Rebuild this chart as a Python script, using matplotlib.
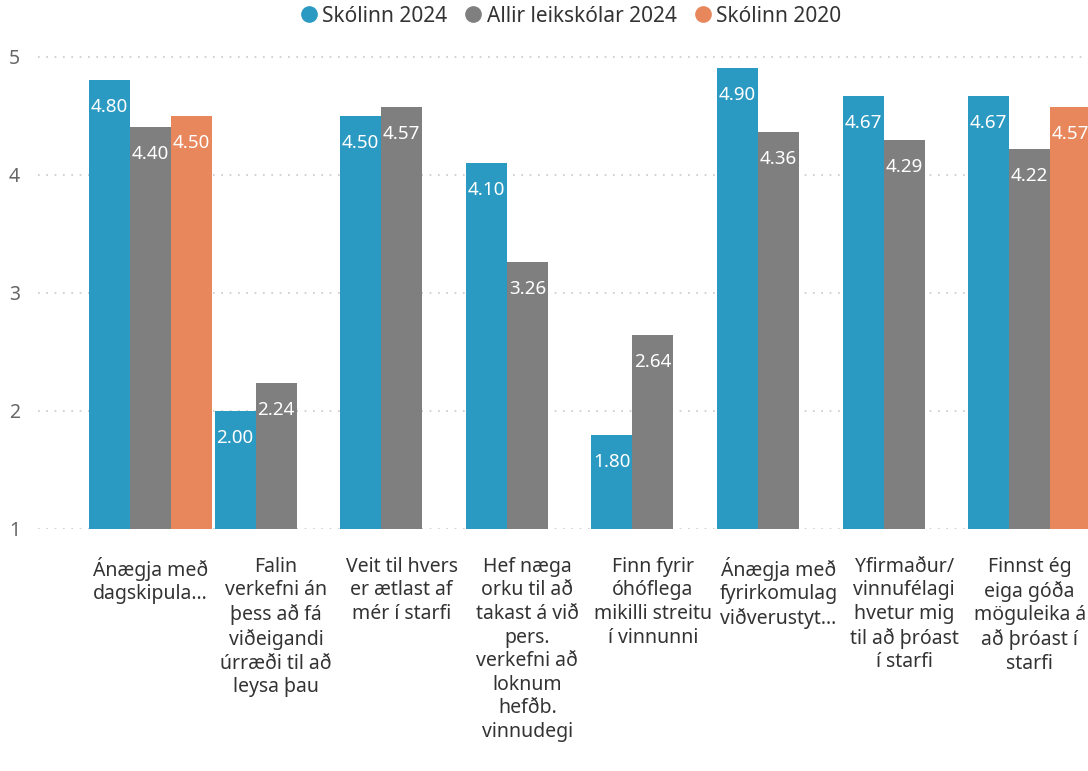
import matplotlib
matplotlib.use("Agg")
import matplotlib.pyplot as plt
import numpy as np
from matplotlib.lines import Line2D

categories = [
    "Ánægja með\ndagskipula...",
    "Falin\nverkefni án\nþess að fá\nviðeigandi\núrræði til að\nleysa þau",
    "Veit til hvers\ner ætlast af\nmér í starfi",
    "Hef næga\norku til að\ntakast á við\npers.\nverkefni að\nloknum\nhefðb.\nvinnudegi",
    "Finn fyrir\nóhóflega\nmikilli streitu\ní vinnunni",
    "Ánægja með\nfyrirkomulag\nviðverustyt...",
    "Yfirmaður/\nvinnufélagi\nhvetur mig\ntil að þróast\ní starfi",
    "Finnst ég\neiga góða\nmöguleika á\nað þróast í\nstarfi",
]
skolinn_2024 = [4.80, 2.00, 4.50, 4.10, 1.80, 4.90, 4.67, 4.67]
allir_2024 = [4.40, 2.24, 4.57, 3.26, 2.64, 4.36, 4.29, 4.22]
skolinn_2020 = [4.50, None, None, None, None, None, None, 4.57]

series_names = ["Skólinn 2024", "Allir leikskólar 2024", "Skólinn 2020"]
colors = ["#2b9ac2", "#7f7f7f", "#e8865c"]
yticks = [1, 2, 3, 4, 5]

plt.rcParams['font.family'] = ['Noto Sans', 'DejaVu Sans']

fig = plt.figure(figsize=(10.88, 7.71), dpi=100)
ax = fig.add_axes([38/1088, 1 - 529/771, 1 - 38/1088, (529-40)/771])

bw = 0.327
x = np.arange(len(categories))
base = 1.0
all_series = [skolinn_2024, allir_2024, skolinn_2020]
for si, (vals, col) in enumerate(zip(all_series, colors)):
    for i, v in enumerate(vals):
        if v is None:
            continue
        xpos = x[i] + (si - 1) * bw
        ax.bar(xpos, v - base, bottom=base, width=bw, color=col, zorder=2)
        ax.annotate(f"{v:.2f}", (xpos, v), xytext=(0, -27), textcoords="offset pixels",
                    ha="center", va="center", color="white", fontsize=13.5, zorder=3)

ax.set_ylim(1, 5.14)
ax.set_xlim(-0.896, 7.464)
ax.set_yticks(yticks)
ax.set_yticklabels([str(t) for t in yticks])
for t in yticks:
    ax.axhline(t, color="#c8c8c8", linestyle=(0, (1, 4)), linewidth=1.2, zorder=1)

ax.set_xticks(x)
ax.set_xticklabels(categories, fontsize=14, color="#333333", linespacing=1.24, va="top")
ax.tick_params(axis="x", length=0, pad=20)
ax.tick_params(axis="y", length=0, pad=13, labelsize=14, labelcolor="#666666")
for s in ax.spines.values():
    s.set_visible(False)

handles = [Line2D([], [], marker="o", linestyle="none", markersize=11, color=c) for c in colors]
fig.legend(handles, series_names, loc="center", bbox_to_anchor=(570/1088, 1 - 16/771),
           ncol=3, frameon=False, fontsize=15, handletextpad=0.15, columnspacing=0.75,
           handlelength=1.0, labelcolor="#333333")

fig.savefig("out.png", dpi=100)
